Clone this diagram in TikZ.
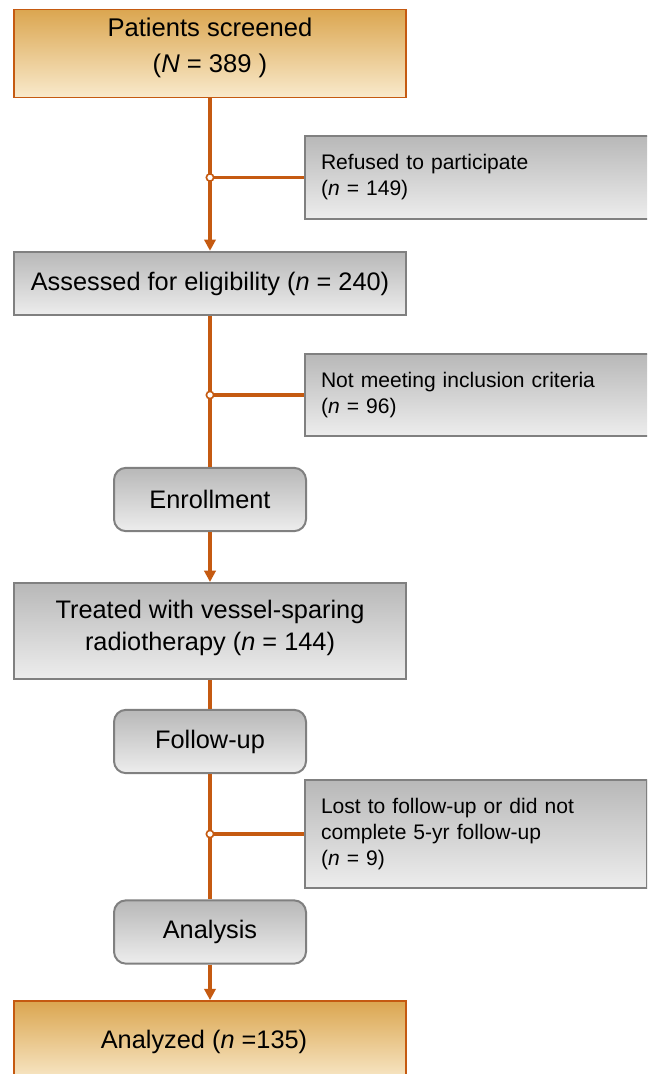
\documentclass[tikz,border=0pt]{standalone}
\usepackage{fontspec}
\setmainfont{Liberation Sans}
\usetikzlibrary{positioning,calc,arrows.meta}

\definecolor{flowline}{RGB}{197,90,17}
\definecolor{goldtop}{RGB}{219,166,80}
\definecolor{goldbot}{RGB}{249,234,204}
\definecolor{greytop}{RGB}{184,184,184}
\definecolor{greybot}{RGB}{237,237,237}
\definecolor{greyedge}{RGB}{128,128,128}

\tikzset{
    goldbox/.style={draw=flowline, line width=1.3pt, top color=goldtop, bottom color=goldbot,
        align=center, inner sep=0pt, minimum width=294pt},
    greybox/.style={draw=greyedge, line width=1.5pt, top color=greytop, bottom color=greybot,
        align=center, inner sep=0pt, font=\fontsize{19}{24}\selectfont},
    roundbox/.style={greybox, rounded corners=9pt, minimum width=144pt, minimum height=47.5pt},
    sidebox/.style={greybox, anchor=west, align=left, inner xsep=12pt,
        font=\fontsize{15.8}{19.5}\selectfont},
    flow/.style={draw=flowline, line width=2.6pt},
    flowarrow/.style={flow, -{Triangle[width=8.5pt,length=8.5pt]}},
    junction/.style={circle, draw=flowline, fill=white, line width=1.2pt, inner sep=0pt, minimum size=5.5pt}
}

\begin{document}
\begin{tikzpicture}[x=0.75pt, y=-0.75pt]
    \clip (0,0) rectangle (647,1074);

    % Main column
    \node[goldbox, minimum height=66pt, text depth=12.5pt, font=\fontsize{19.2}{27}\selectfont] (screened) at (210,53.5)
        {Patients screened\\(\textit{N} = 389 )};
    \node[greybox, minimum width=294pt, minimum height=47.5pt] (assessed) at (210,283.5)
        {Assessed for eligibility (\textit{n} = 240)};
    \node[roundbox] (enroll) at (210,499.5) {Enrollment};
    \node[greybox, minimum width=294pt, minimum height=72pt, text depth=8pt] (treated) at (210,631)
        {Treated with vessel-sparing\\radiotherapy (\textit{n} = 144)};
    \node[roundbox] (followup) at (210,741.5) {Follow-up};
    \node[roundbox] (analysis) at (210,932) {Analysis};
    \node[goldbox, minimum height=61.5pt, font=\fontsize{19}{24}\selectfont] (analyzed) at (210,1042)
        {Analyzed (\textit{n} =135)\hspace*{9pt}};

    % Side boxes
    \node[sidebox, text width=237pt, minimum height=62.25pt] (refused) at (304,177.5)
        {Refused to participate\\(\textit{n} = 149)};
    \node[sidebox, text width=237pt, minimum height=61.5pt] (notmeet) at (304,395)
        {Not meeting inclusion criteria\\(\textit{n} = 96)};
    \node[sidebox, text width=232.5pt, minimum height=81pt] (lost) at (304,834)
        {Lost to follow-up or did not\\complete 5-yr follow-up\\(\textit{n} = 9)};

    % Flow
    \draw[flowarrow] (screened) -- (assessed);
    \draw[flow] (assessed) -- (enroll);
    \draw[flowarrow] (enroll) -- (treated);
    \draw[flow] (treated) -- (followup);
    \draw[flow] (followup) -- (analysis);
    \draw[flowarrow] (analysis) -- (analyzed);

    % Exclusions
    \foreach \side in {refused, notmeet, lost} {
        \coordinate (j-\side) at (screened.south |- \side.west);
        \draw[flow] (j-\side) -- (\side.west);
        \node[junction] (dot-\side) at (j-\side) {};
    }
\end{tikzpicture}
\end{document}
